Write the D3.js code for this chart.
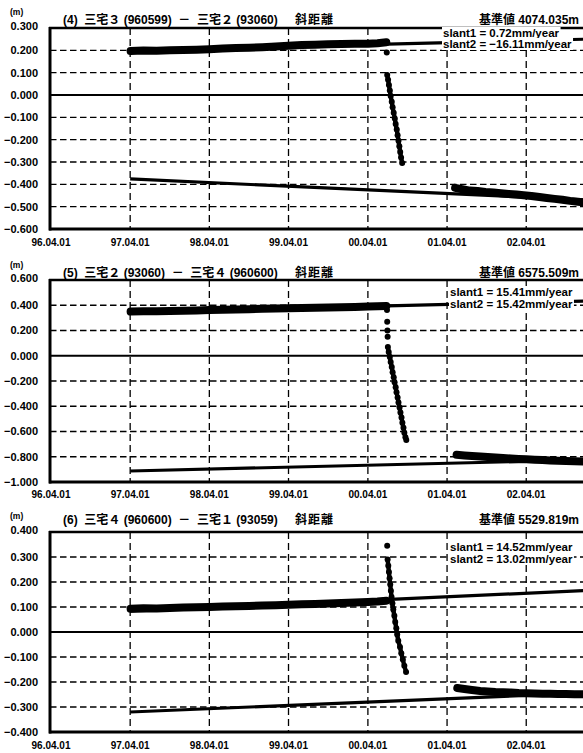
<!DOCTYPE html>
<html><head><meta charset="utf-8">
<script src="https://cdn.jsdelivr.net/npm/d3@7"></script>
<style>
body{margin:0;background:#fff}
svg{display:block}
text{font-family:"Liberation Sans",Arial,"Noto Sans CJK JP",sans-serif;font-weight:bold;fill:#000}
</style>
</head><body>
<svg id="c" width="583" height="753"></svg>
<script>
// ---------------- DATA ----------------
const xTickDates  = ["1996-04-01","1997-04-01","1998-04-01","1999-04-01","2000-04-01","2001-04-01","2002-04-01"];
const xTickLabels = ["96.04.01","97.04.01","98.04.01","99.04.01","00.04.01","01.04.01","02.04.01"];

const titles = [
  "(4)  三宅３ (960599)  －  三宅２ (93060)",
  "(5)  三宅２ (93060)  －  三宅４ (960600)",
  "(6)  三宅４ (960600)  －  三宅１ (93059)"
];
const kindLabel = "斜距離";
const baseLabels = ["基準値 4074.035m","基準値 6575.509m","基準値 5529.819m"];
const slant1Labels = ["slant1 = 0.72mm/year","slant1 = 15.41mm/year","slant1 = 14.52mm/year"];
const slant2Labels = ["slant2 = −16.11mm/year","slant2 = 15.42mm/year","slant2 = 13.02mm/year"];

const yTicks1 = [0.3,0.2,0.1,0.0,-0.1,-0.2,-0.3,-0.4,-0.5,-0.6];
const yTicks2 = [0.6,0.4,0.2,0.0,-0.2,-0.4,-0.6,-0.8,-1.0];
const yTicks3 = [0.4,0.3,0.2,0.1,0.0,-0.1,-0.2,-0.3,-0.4];

// Panel (4)
const p1Before = [["1997-04-03",0.197],["1997-06-01",0.199],["1997-08-01",0.198],["1997-10-01",0.200],["1997-12-01",0.201],["1998-02-01",0.203],["1998-04-01",0.205],["1998-06-01",0.208],["1998-08-01",0.210],["1998-10-01",0.212],["1998-12-01",0.214],["1999-02-01",0.217],["1999-04-01",0.221],["1999-06-01",0.224],["1999-08-01",0.225],["1999-10-01",0.227],["1999-12-01",0.228],["2000-02-01",0.229],["2000-04-01",0.230],["2000-05-15",0.232],["2000-06-25",0.236]];
const p1Jump = [["2000-06-27",0.190],["2000-06-29",0.090],["2000-07-03",0.068],["2000-07-07",0.045],["2000-07-11",0.020],["2000-07-15",-0.005],["2000-07-20",-0.030],["2000-07-24",-0.055],["2000-07-29",-0.080],["2000-08-03",-0.105],["2000-08-07",-0.130],["2000-08-12",-0.155],["2000-08-16",-0.180],["2000-08-20",-0.205],["2000-08-24",-0.230],["2000-08-28",-0.255],["2000-09-01",-0.280],["2000-09-06",-0.305]];
const p1After = [["2001-05-08",-0.416],["2001-06-10",-0.422],["2001-07-15",-0.428],["2001-08-20",-0.430],["2001-09-25",-0.434],["2001-11-01",-0.437],["2001-12-05",-0.440],["2002-01-10",-0.443],["2002-02-15",-0.446],["2002-03-20",-0.449],["2002-04-25",-0.452],["2002-06-01",-0.457],["2002-07-05",-0.461],["2002-08-10",-0.465],["2002-09-15",-0.469],["2002-10-20",-0.474],["2002-11-25",-0.478],["2003-01-01",-0.482]];
const p1Fit1 = [["1997-04-01",0.200],["2003-01-01",0.250]];
const p1Fit2 = [["1997-04-01",-0.376],["2003-01-01",-0.470]];

// Panel (5)
const p2Before = [["1997-04-03",0.350],["1997-06-01",0.352],["1997-08-01",0.353],["1997-10-01",0.355],["1997-12-01",0.357],["1998-02-01",0.359],["1998-04-01",0.362],["1998-06-01",0.365],["1998-08-01",0.366],["1998-10-01",0.369],["1998-12-01",0.372],["1999-02-01",0.374],["1999-04-01",0.376],["1999-06-01",0.379],["1999-08-01",0.381],["1999-10-01",0.383],["1999-12-01",0.385],["2000-02-01",0.387],["2000-04-01",0.390],["2000-05-15",0.393],["2000-06-25",0.395]];
const p2Jump = [["2000-06-28",0.362],["2000-06-29",0.270],["2000-06-30",0.200],["2000-07-01",0.150],["2000-07-02",0.070],["2000-07-06",0.030],["2000-07-11",-0.010],["2000-07-15",-0.050],["2000-07-20",-0.090],["2000-07-24",-0.130],["2000-07-29",-0.170],["2000-08-02",-0.210],["2000-08-07",-0.250],["2000-08-11",-0.290],["2000-08-16",-0.330],["2000-08-20",-0.370],["2000-08-25",-0.410],["2000-08-29",-0.450],["2000-09-03",-0.490],["2000-09-07",-0.530],["2000-09-12",-0.570],["2000-09-16",-0.610],["2000-09-21",-0.645],["2000-09-25",-0.667]];
const p2After = [["2001-05-15",-0.785],["2001-06-20",-0.790],["2001-07-25",-0.794],["2001-09-01",-0.798],["2001-10-05",-0.802],["2001-11-10",-0.806],["2001-12-15",-0.810],["2002-01-20",-0.814],["2002-02-25",-0.817],["2002-04-01",-0.820],["2002-05-10",-0.823],["2002-06-15",-0.826],["2002-07-20",-0.829],["2002-08-25",-0.831],["2002-10-01",-0.833],["2002-11-10",-0.836],["2003-01-01",-0.838]];
const p2Fit1 = [["1997-04-01",0.345],["2003-01-01",0.433]];
const p2Fit2 = [["1997-04-01",-0.913],["2003-01-01",-0.825]];

// Panel (6)
const p3Before = [["1997-04-03",0.093],["1997-06-01",0.095],["1997-08-01",0.094],["1997-10-01",0.096],["1997-12-01",0.098],["1998-02-01",0.099],["1998-04-01",0.100],["1998-06-01",0.102],["1998-08-01",0.103],["1998-10-01",0.104],["1998-12-01",0.106],["1999-02-01",0.107],["1999-04-01",0.109],["1999-06-01",0.111],["1999-08-01",0.112],["1999-10-01",0.114],["1999-12-01",0.116],["2000-02-01",0.118],["2000-04-01",0.120],["2000-05-15",0.122],["2000-06-25",0.125]];
const p3Jump = [["2000-06-29",0.345],["2000-07-01",0.290],["2000-07-04",0.265],["2000-07-07",0.240],["2000-07-10",0.215],["2000-07-13",0.190],["2000-07-16",0.165],["2000-07-19",0.140],["2000-07-23",0.115],["2000-07-27",0.090],["2000-08-01",0.065],["2000-08-05",0.040],["2000-08-10",0.015],["2000-08-14",-0.010],["2000-08-19",-0.035],["2000-08-27",-0.060],["2000-09-02",-0.085],["2000-09-09",-0.110],["2000-09-16",-0.135],["2000-09-24",-0.160]];
const p3After = [["2001-05-18",-0.224],["2001-06-20",-0.228],["2001-07-25",-0.232],["2001-09-01",-0.236],["2001-10-05",-0.238],["2001-11-10",-0.240],["2001-12-15",-0.241],["2002-01-20",-0.242],["2002-02-25",-0.244],["2002-04-01",-0.245],["2002-05-10",-0.246],["2002-06-15",-0.247],["2002-07-20",-0.247],["2002-08-25",-0.248],["2002-10-01",-0.248],["2002-11-10",-0.249],["2003-01-01",-0.249]];
const p3Fit1 = [["1997-04-01",0.083],["2003-01-01",0.166]];
const p3Fit2 = [["1997-04-01",-0.320],["2003-01-01",-0.244]];

// ---------------- LAYOUT ----------------
const layout = [
  {top:28,  bottom:229, titleY:24,  mY:15,  xLabelY:246, s1Y:37,  s2Y:48,  sX:443},
  {top:280, bottom:482, titleY:277, mY:268, xLabelY:498, s1Y:296, s2Y:308, sX:450},
  {top:532, bottom:732, titleY:524, mY:519, xLabelY:749, s1Y:551, s2Y:563, sX:450}
];
const panels = [
  {ticks:yTicks1, before:p1Before, jump:p1Jump, after:p1After, fit1:p1Fit1, fit2:p1Fit2},
  {ticks:yTicks2, before:p2Before, jump:p2Jump, after:p2After, fit1:p2Fit1, fit2:p2Fit2},
  {ticks:yTicks3, before:p3Before, jump:p3Jump, after:p3After, fit1:p3Fit1, fit2:p3Fit2}
];

const parse = d3.timeParse("%Y-%m-%d");
const W = 583;
const x = d3.scaleTime().domain([parse("1996-04-01"), parse("2003-04-01")]).range([51, 51 + 7*79.2]);
const svg = d3.select("#c");
svg.append("rect").attr("width",W).attr("height",753).attr("fill","#fff");
const fmt = d3.format(".3f");

panels.forEach((p,i)=>{
  const L = layout[i];
  const yMax = d3.max(p.ticks), yMin = d3.min(p.ticks);
  const y = d3.scaleLinear().domain([yMin,yMax]).range([L.bottom, L.top]);
  const g = svg.append("g");
  const line = d3.line().x(d=>x(parse(d[0]))).y(d=>y(d[1]));

  // horizontal dashed grid
  g.selectAll(".hg").data(p.ticks.filter(v=>v!==yMax && v!==yMin && Math.abs(v)>1e-9))
    .join("line").attr("x1",50).attr("x2",W).attr("y1",d=>y(d)).attr("y2",d=>y(d))
    .attr("stroke","#000").attr("stroke-width",1.3).attr("stroke-dasharray","6.5,3.5");
  // vertical dashed grid
  g.selectAll(".vg").data(xTickDates.slice(1))
    .join("line").attr("x1",d=>x(parse(d))).attr("x2",d=>x(parse(d)))
    .attr("y1",L.top).attr("y2",L.bottom)
    .attr("stroke","#000").attr("stroke-width",1.3).attr("stroke-dasharray","7,4");
  // zero line
  g.append("line").attr("x1",50).attr("x2",W).attr("y1",y(0)).attr("y2",y(0))
    .attr("stroke","#000").attr("stroke-width",2);

  // fit lines
  [p.fit1,p.fit2].forEach(f=>{
    g.append("path").attr("d",line(f)).attr("fill","none").attr("stroke","#000").attr("stroke-width",3.2);
  });
  // data bands
  [p.before,p.after].forEach(s=>{
    g.append("path").attr("d",line(s)).attr("fill","none").attr("stroke","#000")
      .attr("stroke-width",8).attr("stroke-linejoin","round").attr("stroke-linecap","round");
  });
  // jump: connect closely spaced consecutive dots, then draw dots
  const segs = [];
  for (let k=1;k<p.jump.length;k++){
    if (Math.abs(p.jump[k][1]-p.jump[k-1][1]) < 0.045) segs.push([p.jump[k-1],p.jump[k]]);
  }
  g.selectAll(".seg").data(segs).join("path").attr("d",d=>line(d))
    .attr("fill","none").attr("stroke","#000").attr("stroke-width",4.4).attr("stroke-linecap","round");
  g.selectAll(".dot").data(p.jump).join("circle")
    .attr("cx",d=>x(parse(d[0]))).attr("cy",d=>y(d[1])).attr("r",3).attr("fill","#000");

  // axes frame
  g.append("line").attr("x1",49).attr("x2",W).attr("y1",L.top).attr("y2",L.top).attr("stroke","#000").attr("stroke-width",2.4);
  g.append("line").attr("x1",49).attr("x2",W).attr("y1",L.bottom).attr("y2",L.bottom).attr("stroke","#000").attr("stroke-width",3);
  g.append("line").attr("x1",50).attr("x2",50).attr("y1",L.top-1).attr("y2",L.bottom+1.5).attr("stroke","#000").attr("stroke-width",3);

  // y tick labels
  g.selectAll(".yl").data(p.ticks).join("text")
    .attr("x",38).attr("y",d=> d===yMax ? y(d)-2 : y(d)).attr("dy","0.36em")
    .attr("text-anchor","end").attr("font-size",11).text(d=>fmt(d));
  g.append("text").attr("x",10).attr("y",L.mY).attr("font-size",8.5).text("(m)");

  // x tick labels
  g.selectAll(".xl").data(xTickDates).join("text")
    .attr("x",d=>x(parse(d))).attr("y",L.xLabelY).attr("text-anchor","middle")
    .attr("font-size",10).text((d,k)=>xTickLabels[k]);

  // titles
  g.append("text").attr("x",63).attr("y",L.titleY).attr("font-size",12).style("white-space","pre").text(titles[i]);
  g.append("text").attr("x",295).attr("y",L.titleY).attr("font-size",12).attr("letter-spacing",1).text(kindLabel);
  g.append("text").attr("x",579).attr("y",L.titleY).attr("text-anchor","end").attr("font-size",12).text(baseLabels[i]);

  // slant labels with white boxes
  [[slant1Labels[i],L.s1Y],[slant2Labels[i],L.s2Y]].forEach(([t,yy])=>{
    const tx = g.append("text").attr("x",L.sX).attr("y",yy).attr("font-size",11.5).text(t);
    const bb = tx.node().getBBox();
    g.insert("rect", function(){return tx.node();})
      .attr("x",bb.x-1).attr("y",bb.y).attr("width",bb.width+2).attr("height",bb.height)
      .attr("fill","#fff");
  });
});
</script>
</body></html>
